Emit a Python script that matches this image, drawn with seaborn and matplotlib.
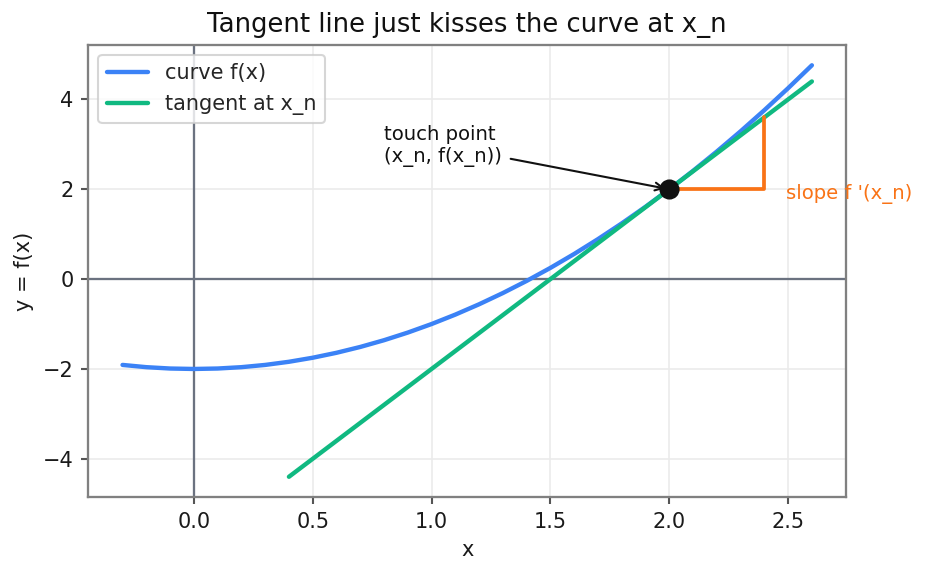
import matplotlib
matplotlib.use("Agg")
import matplotlib.pyplot as plt
import seaborn as sns
import pandas as pd

# Data
curve_x = [-0.3, -0.2, -0.1, 0.0, 0.1, 0.2, 0.3, 0.4, 0.5, 0.6, 0.7, 0.8, 0.9, 1.0,
           1.1, 1.2, 1.3, 1.4, 1.5, 1.6, 1.7, 1.8, 1.9, 2.0, 2.1, 2.2, 2.3, 2.4, 2.5, 2.6]
curve_y = [-1.91, -1.96, -1.99, -2.0, -1.99, -1.96, -1.91, -1.84, -1.75, -1.64, -1.51,
           -1.36, -1.19, -1.0, -0.79, -0.56, -0.31, -0.04, 0.25, 0.56, 0.89, 1.24, 1.61,
           2.0, 2.41, 2.84, 3.29, 3.76, 4.25, 4.76]
tangent_x = [0.4, 2.6]
tangent_y = [-4.4, 4.4]
touch_x, touch_y = 2.0, 2.0
slope_run_x = [2.0, 2.4, 2.4]
slope_run_y = [2.0, 2.0, 3.6]

sns.set_theme(style="ticks", context="notebook")
plt.rcParams.update({
    "axes.grid": True,
    "grid.color": "#ebebeb",
    "grid.linewidth": 0.8,
    "axes.edgecolor": "#808080",
    "axes.linewidth": 1.1,
    "xtick.color": "#555555",
    "ytick.color": "#555555",
    "xtick.major.size": 3.5,
    "ytick.major.size": 3.5,
    "xtick.major.width": 1.0,
    "ytick.major.width": 1.0,
    "xtick.labelcolor": "#1a1a1a",
    "ytick.labelcolor": "#1a1a1a",
    "axes.labelcolor": "#1a1a1a",
})
plt.rcParams["font.family"] = ["DejaVu Sans"]

fig, ax = plt.subplots(figsize=(6.18, 3.82), dpi=150)

ax.axhline(0, color="#6b7280", lw=1.1, zorder=1)
ax.axvline(0, color="#6b7280", lw=1.1, zorder=1)

df_curve = pd.DataFrame({"x": curve_x, "y": curve_y})
df_tan = pd.DataFrame({"x": tangent_x, "y": tangent_y})
sns.lineplot(data=df_curve, x="x", y="y", ax=ax, color="#3b82f6", lw=2.1,
             label="curve f(x)", sort=False, zorder=3)
sns.lineplot(data=df_tan, x="x", y="y", ax=ax, color="#10b981", lw=2.1,
             label="tangent at x_n", sort=False, zorder=3)

ax.plot(slope_run_x, slope_run_y, color="#f97316", lw=1.8, zorder=4)
ax.scatter([touch_x], [touch_y], s=75, color="#111111", zorder=5)

ax.annotate("touch point\n(x_n, f(x_n))", xy=(touch_x, touch_y), xytext=(0.8, 2.5),
            fontsize=9.4, color="#111111", ha="left", va="bottom",
            arrowprops=dict(arrowstyle="->", color="#111111", lw=1.0))
ax.text(2.49, 1.9, "slope f '(x_n)", color="#f97316", fontsize=9.4, va="center", ha="left")

ax.set_title("Tangent line just kisses the curve at x_n", fontsize=12.4, color="#111111")
ax.set_xlabel("x", fontsize=10)
ax.set_ylabel("y = f(x)", fontsize=10)
ax.tick_params(labelsize=10)
ax.legend(loc="upper left", fontsize=10, frameon=True)

fig.subplots_adjust(left=0.095, right=0.913, top=0.922, bottom=0.132)
fig.savefig("out.png", dpi=150)
